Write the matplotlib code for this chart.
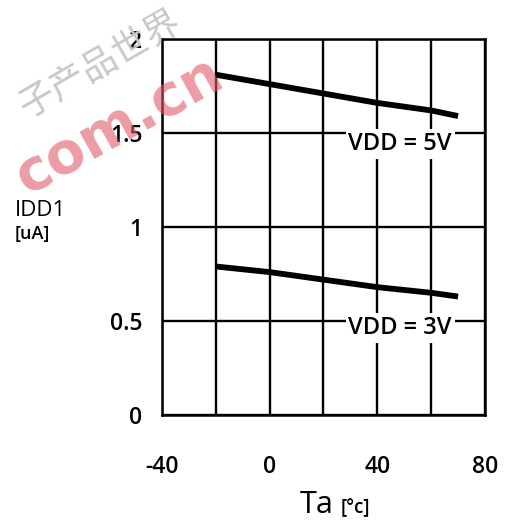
import matplotlib
matplotlib.use("Agg")
import matplotlib.pyplot as plt

# data
temp = [-20, 0, 20, 40, 60, 70]
idd_5v = [1.81, 1.76, 1.71, 1.66, 1.62, 1.59]
idd_3v = [0.79, 0.76, 0.72, 0.68, 0.65, 0.63]
x_ticks = [-40, 0, 40, 80]
x_grid = [-40, -20, 0, 20, 40, 60, 80]
y_ticks = [0, 0.5, 1, 1.5, 2]
y_tick_labels = ["0", "0.5", "1", "1.5", "2"]

plt.rcParams["font.family"] = ["Open Sans", "DejaVu Sans"]
plt.rcParams["axes.unicode_minus"] = False

W, H = 509, 524
fig = plt.figure(figsize=(W / 100, H / 100), dpi=100)
ax = fig.add_axes([162 / W, 1 - 415 / H, (485 - 162) / W, (415 - 39) / H])

# watermark
fig.text(100 / W, 1 - 64 / H, "子产品世界", rotation=30, fontsize=26, color="#c8c8c8",
         family=["Noto Sans CJK SC", "DejaVu Sans"], ha="center", va="center", zorder=0)
fig.text(120 / W, 1 - 126 / H, "com.cn", rotation=29, fontsize=41, fontweight="bold",
         family="DejaVu Sans", color="#e05a6a", alpha=0.6, ha="center", va="center", zorder=5)

for xv in x_grid:
    ax.axvline(xv, color="black", lw=1.7, zorder=1)
for yv in y_ticks:
    ax.axhline(yv, color="black", lw=1.7, zorder=1)

ax.plot(temp, idd_5v, color="black", lw=4.2, solid_capstyle="butt", zorder=3)
ax.plot(temp, idd_3v, color="black", lw=4.2, solid_capstyle="butt", zorder=3)

box = dict(facecolor="white", edgecolor="none", pad=2.0)
ax.text(48.5, 1.41, "VDD = 5V", fontsize=17, fontweight="semibold", ha="center",
        va="baseline", bbox=box, zorder=4)
ax.text(48.5, 0.43, "VDD = 3V", fontsize=17, fontweight="semibold", ha="center",
        va="baseline", bbox=box, zorder=4)

ax.set_xlim(-40, 80)
ax.set_ylim(0, 2)
ax.set_xticks(x_ticks)
ax.set_yticks(y_ticks)
ax.set_yticklabels(y_tick_labels)
ax.tick_params(length=0, labelsize=16.5)
ax.tick_params(axis="x", pad=29)
ax.tick_params(axis="y", pad=14)
for lab in ax.get_xticklabels() + ax.get_yticklabels():
    lab.set_fontweight("semibold")
for sp in ax.spines.values():
    sp.set_linewidth(1.8)

fig.text(15 / W, 1 - 210 / H, "IDD1", fontsize=16, ha="left", va="center")
fig.text(15 / W, 1 - 234 / H, "[uA]", fontsize=13, fontweight="semibold", ha="left", va="center")
fig.text(300 / W, 1 - 513 / H, "Ta", fontsize=22, ha="left", va="baseline")
fig.text(341 / W, 1 - 513 / H, "[°c]", fontsize=13.5, fontweight="semibold", ha="left", va="baseline")

fig.savefig("out.png", dpi=100)
